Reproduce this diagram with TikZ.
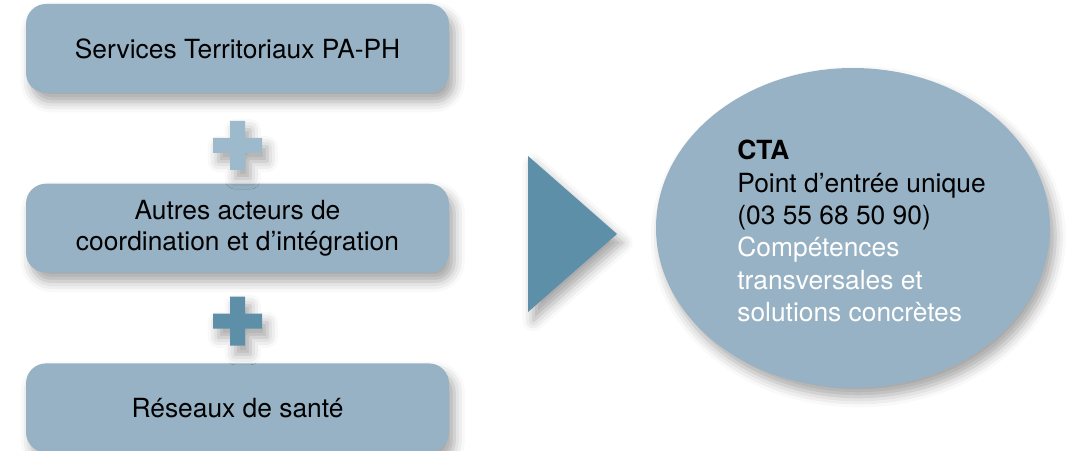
\documentclass[tikz,border=0pt]{standalone}
\usepackage{fontspec}
\setmainfont{TeX Gyre Heros}
\usetikzlibrary{shapes.geometric,positioning,calc,shadows.blur}
\definecolor{boxblue}{HTML}{97B2C4}
\definecolor{plusblue}{HTML}{9CBACB}
\definecolor{darkblue}{HTML}{5E8FA8}
\tikzset{
  softshadow/.style={blur shadow={shadow xshift=3pt, shadow yshift=-5pt, shadow blur radius=6pt, shadow opacity=35}},
  block/.style={rectangle, rounded corners=0.4cm, fill=boxblue, minimum width=8.46cm,
    minimum height=1.78cm, align=center, font=\fontsize{15}{17.6}\selectfont, softshadow},
  bubble/.style={ellipse, fill=boxblue, minimum width=7.88cm, minimum height=6.4cm, softshadow},
}

\begin{document}
\begin{tikzpicture}

            \useasboundingbox (0,0) rectangle (21.46,9);

            % left column
            \node[block] (services) at (4.75,8.03) {Services Territoriaux PA-PH};
            \node[block, below=1.8cm of services] (autres) {Autres acteurs de\\coordination et d’intégration};
            \node[block, below=1.8cm of autres] (reseaux) {Réseaux de santé};

            % plus signs between the boxes
            \coordinate (plusA) at ($(services.south)!0.5!(autres.north)+(0,-0.14)$);
            \coordinate (plusB) at ($(autres.south)!0.5!(reseaux.north)+(0,-0.06)$);
            \foreach \p/\c in {plusA/plusblue, plusB/darkblue}
              {
                \fill[\c, softshadow] ($(\p)+(-0.15,0.49)$) -- ++(0.3,0) -- ++(0,-0.34) -- ++(0.34,0)
                  -- ++(0,-0.3) -- ++(-0.34,0) -- ++(0,-0.34) -- ++(-0.3,0) -- ++(0,0.34)
                  -- ++(-0.34,0) -- ++(0,0.3) -- ++(0.34,0) -- cycle;
              }

            % big arrow
            \fill[darkblue, softshadow] (10.56,5.88) -- (12.34,4.32) -- (10.56,2.76) -- cycle;

            % CTA
            \node[bubble] (cta) at (17.06,4.44) {};
            \node[align=left, font=\fontsize{15}{18.4}\selectfont, anchor=north west, inner sep=0pt] (ctatext) at (14.74,6.2)
              {\textbf{CTA}\\Point d’entrée unique\\(03 55 68 50 90)\\
               \textcolor{white}{Compétences}\\\textcolor{white}{transversales et}\\\textcolor{white}{solutions concrètes}};
          \end{tikzpicture}
\end{document}
